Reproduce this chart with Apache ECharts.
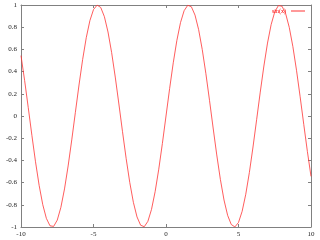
<!DOCTYPE html>
<html><head><meta charset="utf-8">
<script src="https://cdn.jsdelivr.net/npm/echarts@6/dist/echarts.min.js"></script>
<style>html,body{margin:0;padding:0;background:#fff}#c{width:320px;height:240px}</style>
</head><body><div id="c"></div>
<script>
var xValues = [-10,-9.75,-9.5,-9.25,-9,-8.75,-8.5,-8.25,-8,-7.75,-7.5,-7.25,-7,-6.75,-6.5,-6.25,-6,-5.75,-5.5,-5.25,-5,-4.75,-4.5,-4.25,-4,-3.75,-3.5,-3.25,-3,-2.75,-2.5,-2.25,-2,-1.75,-1.5,-1.25,-1,-0.75,-0.5,-0.25,0,0.25,0.5,0.75,1,1.25,1.5,1.75,2,2.25,2.5,2.75,3,3.25,3.5,3.75,4,4.25,4.5,4.75,5,5.25,5.5,5.75,6,6.25,6.5,6.75,7,7.25,7.5,7.75,8,8.25,8.5,8.75,9,9.25,9.5,9.75,10];
var sinValues = [0.5440,0.3195,0.0752,-0.1739,-0.4121,-0.6247,-0.7985,-0.9227,-0.9894,-0.9946,-0.9380,-0.8231,-0.6570,-0.4500,-0.2151,0.0332,0.2794,0.5083,0.7055,0.8589,0.9589,0.9993,0.9775,0.8950,0.7568,0.5716,0.3508,0.1082,-0.1411,-0.3817,-0.5985,-0.7781,-0.9093,-0.9840,-0.9975,-0.9490,-0.8415,-0.6816,-0.4794,-0.2474,0,0.2474,0.4794,0.6816,0.8415,0.9490,0.9975,0.9840,0.9093,0.7781,0.5985,0.3817,0.1411,-0.1082,-0.3508,-0.5716,-0.7568,-0.8950,-0.9775,-0.9993,-0.9589,-0.8589,-0.7055,-0.5083,-0.2794,-0.0332,0.2151,0.4500,0.6570,0.8231,0.9380,0.9946,0.9894,0.9227,0.7985,0.6247,0.4121,0.1739,-0.0752,-0.3195,-0.5440];
var seriesName = 'sin(x)';
var xTicks = [-10, -5, 0, 5, 10];
var yTicks = [-1, -0.8, -0.6, -0.4, -0.2, 0, 0.2, 0.4, 0.6, 0.8, 1];

var chart = echarts.init(document.getElementById('c'), null, {renderer: 'canvas'});
var axisCol = '#808080';
var lbl = {fontFamily: 'Liberation Serif', fontSize: 7, color: '#222'};
function fmt(v){ return String(Math.round(v*10)/10); }
var data = xValues.map(function(x, i){ return [x, sinValues[i]]; });
function axisLine(){ return {show: true, onZero: false, lineStyle: {color: axisCol, width: 1}}; }
function axisTick(){ return {show: true, inside: true, length: 3, lineStyle: {color: axisCol}}; }
chart.setOption({
  animation: false,
  backgroundColor: '#fff',
  grid: {left: 21, right: 9, top: 5, bottom: 13, containLabel: false},
  legend: {
    right: 15, top: 8, padding: 0, align: 'right', itemWidth: 14, itemHeight: 1, icon: 'rect', itemGap: 4,
    textStyle: {color: '#ff0000', fontSize: 6, fontFamily: 'Liberation Serif', padding: [0,0,0,0]},
    data: [seriesName]
  },
  xAxis: [{
    type: 'value', min: xTicks[0], max: xTicks[xTicks.length-1], interval: 5,
    axisLine: axisLine(), axisTick: axisTick(),
    axisLabel: Object.assign({margin: 4, formatter: fmt}, lbl),
    splitLine: {show: false}
  }, {
    type: 'value', position: 'top', min: xTicks[0], max: xTicks[xTicks.length-1], interval: 5,
    axisLine: axisLine(), axisTick: axisTick(),
    axisLabel: {show: false}, splitLine: {show: false}
  }],
  yAxis: [{
    type: 'value', min: yTicks[0], max: yTicks[yTicks.length-1], interval: 0.2,
    axisLine: axisLine(), axisTick: axisTick(),
    axisLabel: Object.assign({margin: 4, formatter: fmt}, lbl),
    splitLine: {show: false}
  }, {
    type: 'value', position: 'right', min: yTicks[0], max: yTicks[yTicks.length-1], interval: 0.2,
    axisLine: axisLine(), axisTick: axisTick(),
    axisLabel: {show: false}, splitLine: {show: false}
  }],
  series: [{
    name: seriesName, type: 'line', data: data, xAxisIndex: 0, yAxisIndex: 0,
    showSymbol: false, symbol: 'none', smooth: false,
    lineStyle: {color: '#ff3333', width: 0.8}, itemStyle: {color: '#ff3333'}
  }]
});
</script></body></html>
